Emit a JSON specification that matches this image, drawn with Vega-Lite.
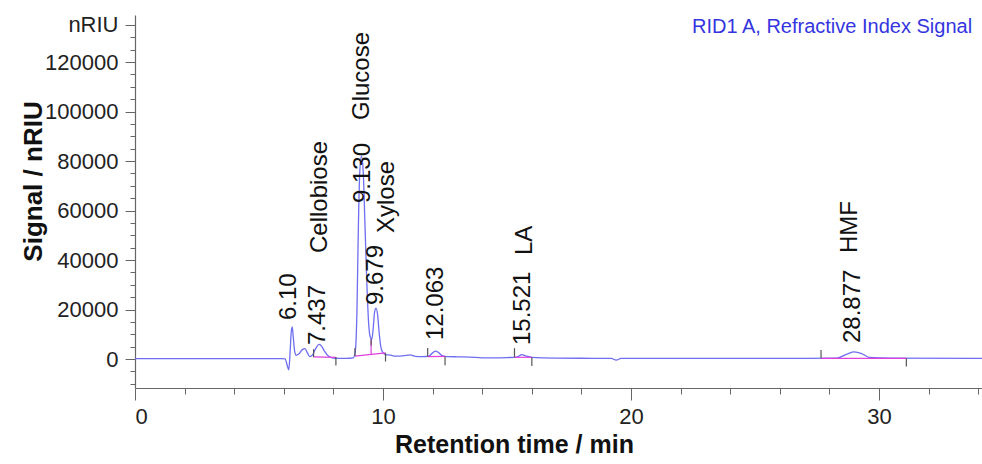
{
  "$schema": "https://vega.github.io/schema/vega-lite/v6.json",
  "width": 847,
  "height": 373,
  "autosize": "none",
  "padding": {"left": 135, "top": 15, "right": 0, "bottom": 76},
  "background": "white",
  "config": {"view": {"stroke": null}, "font": "Liberation Sans", "axis": {"grid": false}},
  "datasets": {
    "trace": [
      {"t": 0, "v": 200}, {"t": 5.9, "v": 200}, {"t": 6.05, "v": 100}, {"t": 6.15, "v": -3000},
      {"t": 6.2, "v": -4400}, {"t": 6.25, "v": 2000}, {"t": 6.3, "v": 11000}, {"t": 6.34, "v": 13000},
      {"t": 6.38, "v": 9000}, {"t": 6.44, "v": 3000}, {"t": 6.5, "v": 1500}, {"t": 6.6, "v": 2000},
      {"t": 6.75, "v": 3800}, {"t": 6.85, "v": 4200}, {"t": 6.95, "v": 2500}, {"t": 7.05, "v": 1000},
      {"t": 7.15, "v": 1500}, {"t": 7.3, "v": 4500}, {"t": 7.42, "v": 5900}, {"t": 7.5, "v": 5500},
      {"t": 7.65, "v": 3000}, {"t": 7.8, "v": 1200}, {"t": 7.95, "v": 500}, {"t": 8.2, "v": 300},
      {"t": 8.5, "v": 300}, {"t": 8.8, "v": 500}, {"t": 8.88, "v": 3000}, {"t": 8.95, "v": 20000},
      {"t": 9.0, "v": 50000}, {"t": 9.06, "v": 75000}, {"t": 9.13, "v": 82000}, {"t": 9.2, "v": 76000},
      {"t": 9.27, "v": 55000}, {"t": 9.35, "v": 30000}, {"t": 9.43, "v": 13000}, {"t": 9.5, "v": 8500},
      {"t": 9.55, "v": 8000}, {"t": 9.6, "v": 12000}, {"t": 9.66, "v": 19000}, {"t": 9.72, "v": 20600},
      {"t": 9.78, "v": 18000}, {"t": 9.85, "v": 10000}, {"t": 9.92, "v": 4500}, {"t": 10.0, "v": 2500},
      {"t": 10.1, "v": 1800}, {"t": 10.3, "v": 1600}, {"t": 10.5, "v": 1200}, {"t": 10.8, "v": 1300},
      {"t": 11.1, "v": 1700}, {"t": 11.3, "v": 1100}, {"t": 11.6, "v": 1000}, {"t": 11.85, "v": 1200},
      {"t": 12.0, "v": 2500}, {"t": 12.12, "v": 3200}, {"t": 12.25, "v": 2500}, {"t": 12.4, "v": 1300},
      {"t": 12.6, "v": 1000}, {"t": 13.0, "v": 900}, {"t": 13.5, "v": 800}, {"t": 14.0, "v": 500},
      {"t": 14.5, "v": 500}, {"t": 15.0, "v": 600}, {"t": 15.4, "v": 800}, {"t": 15.6, "v": 1800},
      {"t": 15.75, "v": 1300}, {"t": 16.0, "v": 700}, {"t": 17.0, "v": 400}, {"t": 18.5, "v": 300},
      {"t": 19.2, "v": 250}, {"t": 19.4, "v": -400}, {"t": 19.6, "v": 250}, {"t": 22, "v": 300},
      {"t": 27, "v": 300}, {"t": 28.3, "v": 400}, {"t": 28.7, "v": 2000}, {"t": 29.0, "v": 2900},
      {"t": 29.3, "v": 2200}, {"t": 29.6, "v": 700}, {"t": 30.5, "v": 400}, {"t": 34.15, "v": 300}
    ],
    "baselines": [
      {"t": 7.2, "t2": 8.1, "v": 900, "v2": 700},
      {"t": 8.87, "t2": 10.1, "v": 1200, "v2": 2500},
      {"t": 9.52, "t2": 9.52, "v": 1900, "v2": 8000},
      {"t": 11.8, "t2": 12.5, "v": 1000, "v2": 1100},
      {"t": 15.3, "t2": 16.0, "v": 700, "v2": 700},
      {"t": 27.66, "t2": 31.1, "v": 300, "v2": 300}
    ],
    "marks": [
      {"t": 7.2, "v": 800, "v2": 4000},
      {"t": 8.1, "v": 800, "v2": -2600},
      {"t": 8.87, "v": 1200, "v2": 4500},
      {"t": 9.52, "v": 8000, "v2": 5500},
      {"t": 10.1, "v": 2500, "v2": -1000},
      {"t": 11.8, "v": 1000, "v2": 4500},
      {"t": 12.5, "v": 1000, "v2": -2500},
      {"t": 15.3, "v": 700, "v2": 4400},
      {"t": 16.0, "v": 700, "v2": -2800},
      {"t": 27.66, "v": 300, "v2": 3700},
      {"t": 31.1, "v": 300, "v2": -3000}
    ],
    "labels": [
      {"label": "6.10", "t": 6.22, "v": 15760},
      {"label": "7.437", "t": 7.39, "v": 5660},
      {"label": "Cellobiose", "t": 7.46, "v": 42830},
      {"label": "9.130", "t": 9.18, "v": 63030},
      {"label": "Glucose", "t": 9.14, "v": 96570},
      {"label": "Xylose", "t": 10.15, "v": 50900},
      {"label": "9.679", "t": 9.72, "v": 21820},
      {"label": "12.063", "t": 12.14, "v": 7680},
      {"label": "15.521", "t": 15.63, "v": 5660},
      {"label": "LA", "t": 15.72, "v": 42020},
      {"label": "HMF", "t": 28.83, "v": 42830},
      {"label": "28.877", "t": 28.95, "v": 6460}
    ],
    "header": [
      {"label": "RID1 A, Refractive Index Signal", "t": 33.75, "v": 134100}
    ]
  },
  "resolve": {"axis": {"x": "independent", "y": "independent"}},
  "layer": [
    {
      "data": {"name": "trace"},
      "mark": {"type": "line", "color": "#6e6ef2", "strokeWidth": 1.3, "interpolate": "monotone"},
      "encoding": {
        "x": {
          "field": "t", "type": "quantitative",
          "scale": {"domain": [0, 34.15], "nice": false, "zero": false},
          "axis": {
            "orient": "bottom", "values": [0, 10, 20, 30], "format": "d",
            "tickSize": 12, "tickColor": "#666", "domainColor": "#666", "domainWidth": 1.2,
            "labelFontSize": 22, "labelColor": "#222", "labelPadding": 6,
            "title": "Retention time / min", "titleFontSize": 25, "titleFontWeight": "bold",
            "titleColor": "#111", "titleX": 379, "titleY": 64, "titleBaseline": "alphabetic", "titleAlign": "center"
          }
        },
        "y": {
          "field": "v", "type": "quantitative",
          "scale": {"domain": [-11700, 139000], "nice": false, "zero": false},
          "axis": {
            "orient": "left", "values": [0, 20000, 40000, 60000, 80000, 100000, 120000, 135000], "format": "d",
            "labelExpr": "datum.value == 135000 ? 'nRIU' : datum.label",
            "tickSize": 10, "tickColor": "#666", "domainColor": "#666", "domainWidth": 1.2,
            "labelFontSize": 22, "labelColor": "#222", "labelPadding": 7,
            "title": "Signal / nRIU", "titleFontSize": 26, "titleFontWeight": "bold", "titleColor": "#111",
            "titleAngle": 270, "titleX": -94, "titleY": 166, "titleBaseline": "alphabetic", "titleAlign": "center"
          }
        }
      }
    },
    {
      "data": {"name": "baselines"},
      "mark": {"type": "rule", "color": "#e040e0", "strokeWidth": 1.2},
      "encoding": {
        "x": {
          "field": "t", "type": "quantitative",
          "scale": {"domain": [0, 34.15], "nice": false, "zero": false},
          "axis": {
            "orient": "bottom", "values": [2, 4, 6, 8, 12, 14, 16, 18, 22, 24, 26, 28, 32, 34],
            "tickSize": 6, "tickColor": "#666", "labels": false, "domain": false, "title": null
          }
        },
        "x2": {"field": "t2"},
        "y": {
          "field": "v", "type": "quantitative",
          "scale": {"domain": [-11700, 139000], "nice": false, "zero": false},
          "axis": {
            "orient": "left",
            "values": [-10000, -5000, 5000, 10000, 15000, 25000, 30000, 35000, 45000, 50000, 55000, 65000, 70000, 75000, 85000, 90000, 95000, 105000, 110000, 115000, 125000, 130000],
            "tickSize": 5, "tickColor": "#666", "labels": false, "domain": false, "title": null
          }
        },
        "y2": {"field": "v2"}
      }
    },
    {
      "data": {"name": "marks"},
      "mark": {"type": "rule", "color": "#555", "strokeWidth": 1.2},
      "encoding": {
        "x": {"field": "t", "type": "quantitative", "scale": {"domain": [0, 34.15], "nice": false, "zero": false}, "axis": null},
        "y": {"field": "v", "type": "quantitative", "scale": {"domain": [-11700, 139000], "nice": false, "zero": false}, "axis": null},
        "y2": {"field": "v2"}
      }
    },
    {
      "data": {"name": "labels"},
      "mark": {"type": "text", "angle": 270, "align": "left", "baseline": "middle", "fontSize": 24, "color": "#111"},
      "encoding": {
        "x": {"field": "t", "type": "quantitative", "scale": {"domain": [0, 34.15], "nice": false, "zero": false}, "axis": null},
        "y": {"field": "v", "type": "quantitative", "scale": {"domain": [-11700, 139000], "nice": false, "zero": false}, "axis": null},
        "text": {"field": "label"}
      }
    },
    {
      "data": {"name": "header"},
      "mark": {"type": "text", "align": "right", "baseline": "middle", "fontSize": 20, "color": "#3535e0"},
      "encoding": {
        "x": {"field": "t", "type": "quantitative", "scale": {"domain": [0, 34.15], "nice": false, "zero": false}, "axis": null},
        "y": {"field": "v", "type": "quantitative", "scale": {"domain": [-11700, 139000], "nice": false, "zero": false}, "axis": null},
        "text": {"field": "label"}
      }
    }
  ]
}
